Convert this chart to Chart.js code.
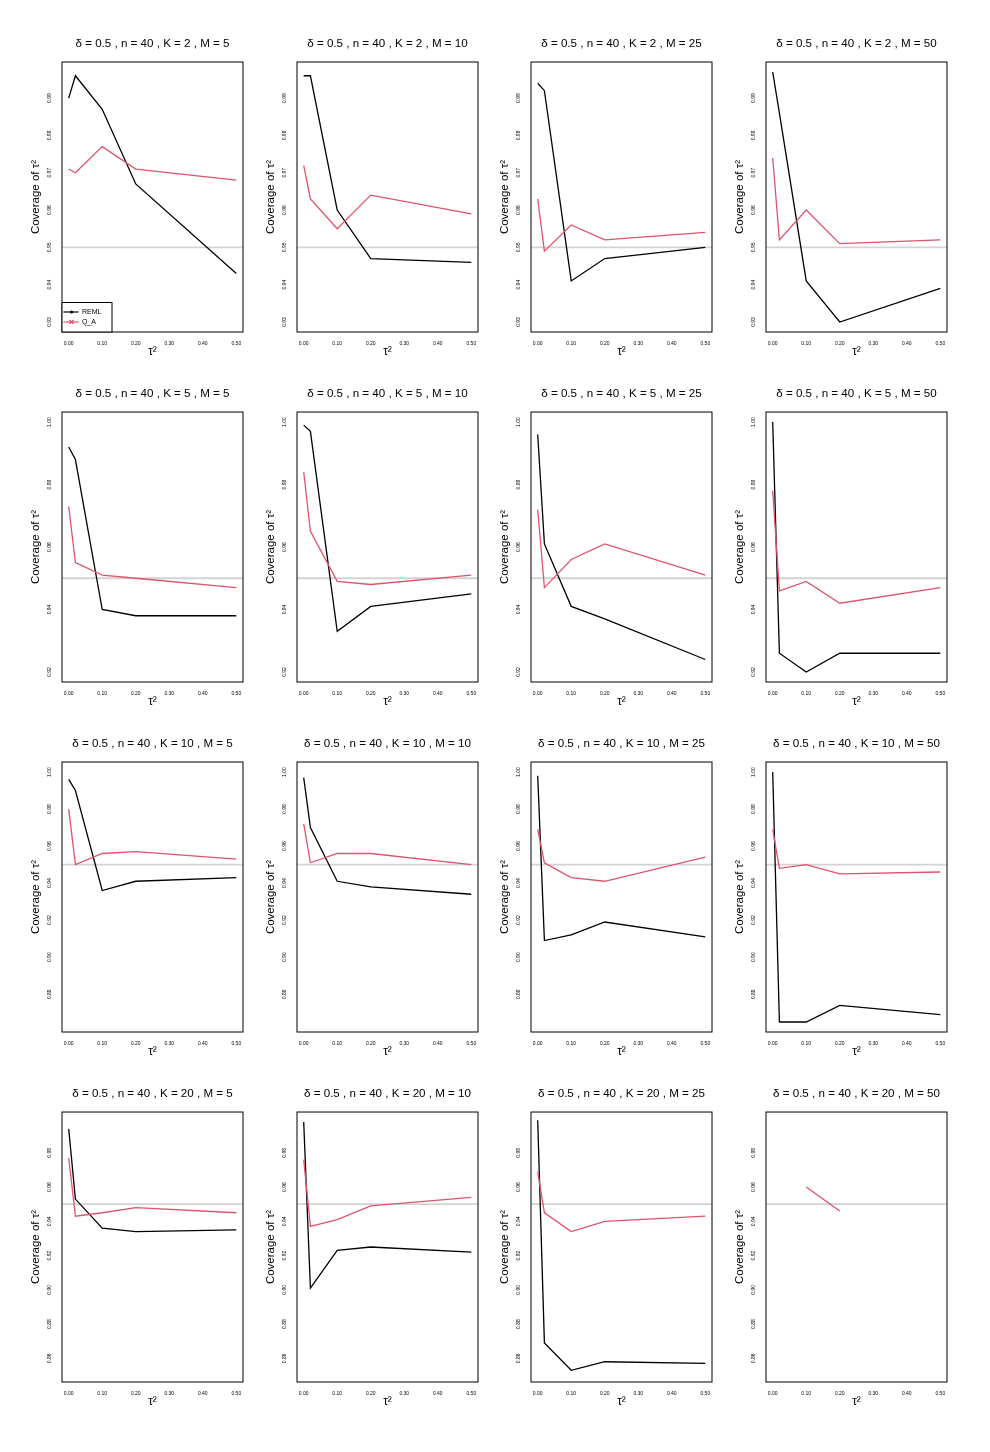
<!DOCTYPE html>
<html>
<head>
<meta charset="utf-8">
<script src="https://cdn.jsdelivr.net/npm/chart.js@4.4.1/dist/chart.umd.min.js"></script>
<style>
  html, body { margin: 0; padding: 0; background: #fff; overflow: hidden; }
  #grid { position: relative; width: 990px; height: 1452px; overflow: hidden; }
  .panel { position: absolute; width: 305px; height: 367px; }
</style>
</head>
<body>
<div id="grid"></div>
<script>
const tau2 = [0, 0.02, 0.1, 0.2, 0.5];
const xTickValues = [0, 0.1, 0.2, 0.3, 0.4, 0.5];
const kValues = [2, 5, 10, 20];
const mValues = [5, 10, 25, 50];

// coverage: one array per M (5, 10, 25, 50), values at each tau2
const remlK2 = [
  [0.990, 0.996, 0.987, 0.967, 0.943],
  [0.996, 0.996, 0.960, 0.947, 0.946],
  [0.994, 0.992, 0.941, 0.947, 0.950],
  [0.997, 0.986, 0.941, 0.930, 0.939]
];
const qaK2 = [
  [0.971, 0.970, 0.977, 0.971, 0.968],
  [0.972, 0.963, 0.955, 0.964, 0.959],
  [0.963, 0.949, 0.956, 0.952, 0.954],
  [0.974, 0.952, 0.960, 0.951, 0.952]
];
const remlK5 = [
  [0.992, 0.988, 0.940, 0.938, 0.938],
  [0.999, 0.997, 0.933, 0.941, 0.945],
  [0.996, 0.961, 0.941, 0.937, 0.924],
  [1.000, 0.926, 0.920, 0.926, 0.926]
];
const qaK5 = [
  [0.973, 0.955, 0.951, 0.950, 0.947],
  [0.984, 0.965, 0.949, 0.948, 0.951],
  [0.972, 0.947, 0.956, 0.961, 0.951],
  [0.978, 0.946, 0.949, 0.942, 0.947]
];
const remlK10 = [
  [0.996, 0.990, 0.936, 0.941, 0.943],
  [0.997, 0.970, 0.941, 0.938, 0.934],
  [0.998, 0.909, 0.912, 0.919, 0.911],
  [1.000, 0.865, 0.865, 0.874, 0.869]
];
const qaK10 = [
  [0.980, 0.950, 0.956, 0.957, 0.953],
  [0.972, 0.951, 0.956, 0.956, 0.950],
  [0.969, 0.951, 0.943, 0.941, 0.954],
  [0.969, 0.948, 0.950, 0.945, 0.946]
];
const remlK20 = [
  [0.994, 0.953, 0.936, 0.934, 0.935],
  [0.998, 0.901, 0.923, 0.925, 0.922],
  [0.999, 0.869, 0.853, 0.858, 0.857],
  [null, null, null, null, null]
];
const qaK20 = [
  [0.977, 0.943, 0.945, 0.948, 0.945],
  [0.976, 0.937, 0.941, 0.949, 0.954],
  [0.969, 0.945, 0.934, 0.940, 0.943],
  [null, null, 0.960, 0.946, null]
];

const yTicksK2 = [0.93, 0.94, 0.95, 0.96, 0.97, 0.98, 0.99];
const yTicksK5 = [0.92, 0.94, 0.96, 0.98, 1.00];
const yTicksK10 = [0.88, 0.90, 0.92, 0.94, 0.96, 0.98, 1.00];
const yTicksK20 = [0.86, 0.88, 0.90, 0.92, 0.94, 0.96, 0.98];

// data range of each row of panels (the plot pads it by 4% each side)
const yLimK2 = [0.930, 0.997];
const yLimK5 = [0.920, 1.000];
const yLimK10 = [0.865, 1.000];
const yLimK20 = [0.852, 0.998];

const nominal = 0.95;

const rows = [
  { reml: remlK2, qa: qaK2, ticks: yTicksK2, lim: yLimK2 },
  { reml: remlK5, qa: qaK5, ticks: yTicksK5, lim: yLimK5 },
  { reml: remlK10, qa: qaK10, ticks: yTicksK10, lim: yLimK10 },
  { reml: remlK20, qa: qaK20, ticks: yTicksK20, lim: yLimK20 }
];

const FONT = "'Liberation Sans', Arial, Helvetica, sans-serif";
const RED = "#DF536B";
Chart.defaults.font.family = FONT;
Chart.defaults.color = "#000";

function pad4(lo, hi) {
  const d = (hi - lo) * 0.04;
  return [lo - d, hi + d];
}
const [xMin, xMax] = pad4(0, 0.5);

const frame = {
  id: "frame",
  afterDraw(chart) {
    const { ctx, chartArea: a } = chart;
    ctx.save();
    ctx.strokeStyle = "#000";
    ctx.lineWidth = 1;
    ctx.strokeRect(a.left, a.top, a.right - a.left, a.bottom - a.top);
    ctx.restore();
  }
};

const legendBox = {
  id: "legendBox",
  afterDraw(chart) {
    const { ctx, chartArea: a } = chart;
    const w = 50, h = 29.5;
    const top = a.bottom - h;
    ctx.save();
    ctx.fillStyle = "#fff";
    ctx.fillRect(a.left, top, w, h);
    ctx.strokeStyle = "#000";
    ctx.lineWidth = 1;
    ctx.strokeRect(a.left, top, w, h);
    const sets = chart.data.datasets.slice(0, 2);
    sets.forEach((ds, i) => {
      const y = top + 9.5 + i * 10;
      ctx.strokeStyle = ds.borderColor;
      ctx.lineWidth = 1.2;
      ctx.beginPath();
      ctx.moveTo(a.left + 1.5, y);
      ctx.lineTo(a.left + 16.5, y);
      ctx.stroke();
      const mx = a.left + 9.5;
      if (i === 0) {
        ctx.fillStyle = ds.borderColor;
        ctx.beginPath();
        ctx.arc(mx, y, 1.6, 0, Math.PI * 2);
        ctx.fill();
      } else {
        ctx.beginPath();
        ctx.moveTo(mx - 2, y - 2); ctx.lineTo(mx + 2, y + 2);
        ctx.moveTo(mx - 2, y + 2); ctx.lineTo(mx + 2, y - 2);
        ctx.stroke();
      }
      ctx.fillStyle = "#000";
      ctx.font = "7px " + FONT;
      ctx.textBaseline = "middle";
      ctx.textAlign = "left";
      ctx.fillText(ds.label, a.left + 20, y + 0.5);
    });
    ctx.restore();
  }
};

const grid = document.getElementById("grid");
const colStep = 234.5, rowStep = 350;

rows.forEach((row, r) => {
  const [yMin, yMax] = pad4(row.lim[0], row.lim[1]);
  mValues.forEach((m, c) => {
    const div = document.createElement("div");
    div.className = "panel";
    div.style.left = (c * colStep) + "px";
    div.style.top = (r * rowStep) + "px";
    const canvas = document.createElement("canvas");
    canvas.width = 305;
    canvas.height = 367;
    div.appendChild(canvas);
    grid.appendChild(div);

    const reml = row.reml[c], qa = row.qa[c];
    new Chart(canvas, {
      type: "line",
      data: {
        datasets: [
          {
            label: "REML",
            data: tau2.map((x, i) => ({ x, y: reml[i] })),
            borderColor: "#000", borderWidth: 1.3,
            pointRadius: 0, tension: 0, spanGaps: false, order: 1
          },
          {
            label: "Q_A",
            data: tau2.map((x, i) => ({ x, y: qa[i] })),
            borderColor: RED, borderWidth: 1.3,
            pointRadius: 0, tension: 0, spanGaps: false, order: 0
          },
          {
            label: "nominal",
            data: [{ x: xMin, y: nominal }, { x: xMax, y: nominal }],
            borderColor: "#D3D3D3", borderWidth: 1.8,
            pointRadius: 0, order: 2
          }
        ]
      },
      options: {
        responsive: false,
        maintainAspectRatio: false,
        animation: false,
        events: [],
        layout: { padding: 0 },
        plugins: {
          legend: { display: false },
          tooltip: { enabled: false },
          title: {
            display: true,
            text: "δ = 0.5 , n = 40 , K = " + kValues[r] + " , M = " + m,
            font: { size: 11.6, weight: "normal", family: FONT },
            color: "#000",
            padding: { top: 37.2, bottom: 10.9 }
          }
        },
        scales: {
          x: {
            type: "linear",
            min: xMin, max: xMax,
            afterBuildTicks: s => { s.ticks = xTickValues.map(v => ({ value: v })); },
            afterFit: s => { s.height = 35; s.paddingLeft = 0; s.paddingRight = 0; },
            grid: { display: false, drawTicks: false },
            border: { display: false },
            ticks: {
              autoSkip: false, minRotation: 0, maxRotation: 0, padding: 8.2,
              font: { size: 5 }, color: "#000",
              callback: v => v.toFixed(2)
            },
            title: {
              display: true, text: "τ²",
              font: { size: 12 }, color: "#000",
              padding: { top: 0, bottom: 7.8 }
            }
          },
          y: {
            type: "linear",
            min: yMin, max: yMax,
            afterBuildTicks: s => { s.ticks = row.ticks.map(v => ({ value: v })); },
            afterFit: s => { s.width = 62; s.paddingTop = 0; s.paddingBottom = 0; },
            grid: { display: false, drawTicks: false },
            border: { display: false },
            ticks: {
              autoSkip: false, minRotation: 90, maxRotation: 90,
              crossAlign: "center", padding: 7.5,
              font: { size: 5 }, color: "#000",
              callback: v => v.toFixed(2)
            },
            title: {
              display: true, text: "Coverage of τ²",
              font: { size: 11.5 }, color: "#000",
              padding: { top: 28.8, bottom: 0 }
            }
          },
          y2: {
            type: "linear",
            position: "right",
            display: true,
            grid: { display: false, drawTicks: false },
            border: { display: false },
            ticks: { display: false },
            afterFit: s => { s.width = 62; s.paddingTop = 0; s.paddingBottom = 0; }
          }
        }
      },
      plugins: (r === 0 && c === 0) ? [frame, legendBox] : [frame]
    });
  });
});
</script>
</body>
</html>
